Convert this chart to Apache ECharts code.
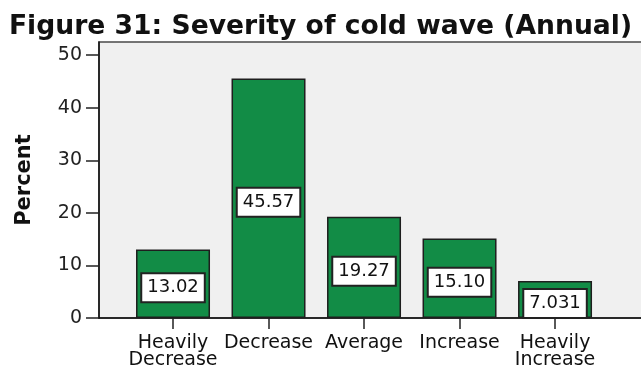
<!DOCTYPE html>
<html>
<head>
<meta charset="utf-8">
<script src="https://cdn.jsdelivr.net/npm/echarts@6/dist/echarts.min.js"></script>
<style>
  html, body { margin: 0; padding: 0; background: #ffffff; }
  #chart { width: 641px; height: 369px; }
</style>
</head>
<body>
<div id="chart"></div>
<script>
// Cold wave severity responses (percent of respondents)
const categories = ['Heavily\nDecrease', 'Decrease', 'Average', 'Increase', 'Heavily\nIncrease'];
const percents = [13.02, 45.57, 19.27, 15.10, 7.031];
const yTicks = [0, 10, 20, 30, 40, 50];
const positions = [1, 2, 3, 4, 5];

const FONT = 'DejaVu Sans';
const chart = echarts.init(document.getElementById('chart'), null, { renderer: 'canvas' });

chart.setOption({
  animation: false,
  backgroundColor: '#ffffff',
  title: {
    text: 'Figure 31: Severity of cold wave (Annual)',
    left: 'center',
    top: 9,
    textStyle: { fontFamily: FONT, fontWeight: 'bold', fontSize: 26.6, color: '#111111' }
  },
  grid: {
    left: 99, top: 42, right: -2, bottom: 51,
    outerBoundsMode: 'none',
    containLabel: false,
    show: true,
    backgroundColor: '#f0f0f0',
    borderColor: '#4a4a4a',
    borderWidth: 1.5
  },
  xAxis: {
    type: 'value',
    min: 0.225,
    max: 5.921,
    splitLine: { show: false },
    axisLine: { show: true, onZero: false, lineStyle: { color: '#111111', width: 1.5 } },
    axisTick: { show: true, length: 11, customValues: positions, lineStyle: { color: '#222222', width: 1.5 } },
    axisLabel: {
      customValues: positions,
      margin: 17,
      fontFamily: FONT, fontSize: 19, lineHeight: 17, color: '#111111',
      formatter: v => categories[Math.round(v) - 1] || ''
    }
  },
  yAxis: {
    type: 'value',
    min: 0,
    max: 52.5,
    name: 'Percent',
    nameLocation: 'middle',
    nameRotate: 90,
    nameGap: 64,
    nameTextStyle: { fontFamily: FONT, fontWeight: 'bold', fontSize: 21, color: '#111111' },
    splitLine: { show: false },
    axisLine: { show: true, lineStyle: { color: '#111111', width: 1.5 } },
    axisTick: { show: true, length: 13, customValues: yTicks, lineStyle: { color: '#222222', width: 1.5 } },
    axisLabel: { customValues: yTicks, margin: 17, fontFamily: FONT, fontSize: 19, color: '#222222' }
  },
  series: [{
    type: 'bar',
    data: positions.map((p, i) => [p, percents[i]]),
    barWidth: 74,
    itemStyle: { color: '#128c46', borderColor: '#1e1e1e', borderWidth: 1.5 },
    label: {
      show: true,
      position: 'inside',
      offset: [0, 4],
      formatter: p => p.value[1].toPrecision(4),
      fontFamily: FONT, fontSize: 18, color: '#111111',
      backgroundColor: '#ffffff',
      borderColor: '#222222', borderWidth: 2,
      padding: [5, 5, 4, 5]
    }
  }]
});
</script>
</body>
</html>
